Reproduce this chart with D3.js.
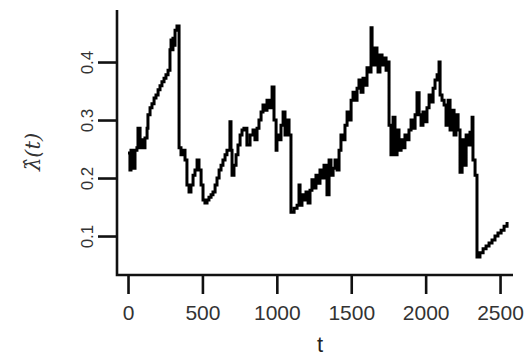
<!DOCTYPE html>
<html>
<head>
<meta charset="utf-8">
<script src="https://cdn.jsdelivr.net/npm/d3@7"></script>
<style>
  body { margin: 0; background: #fff; }
</style>
</head>
<body>
<div id="chart"></div>
<script>
// estimated intensity (step function)
const tValues = [
  0, 13, 20, 34, 47, 60, 67, 81, 87, 101, 114, 128, 134, 148, 161, 175, 188, 202, 215, 228,
  242, 255, 269, 282, 289, 296, 302, 309, 316, 329,
  343, 356, 370, 383, 396, 410, 423, 437, 450, 464, 477, 491, 504, 517, 531, 544, 558, 571,
  585, 598, 612, 625, 638, 652, 665, 685, 692, 699, 712, 726, 739, 753, 766, 779, 799, 820,
  840, 853, 867, 880, 894, 907, 921, 934, 948, 968, 981, 995, 1001, 1015, 1028, 1042, 1055,
  1068, 1082,
  1095, 1116, 1136, 1149, 1156, 1169, 1183, 1196, 1210, 1223, 1236, 1250, 1263, 1277, 1290,
  1304, 1317, 1331, 1337, 1351, 1364, 1378, 1391, 1405, 1418, 1431, 1445, 1458, 1472, 1485,
  1499, 1512, 1525, 1539, 1552, 1566, 1579, 1592, 1606, 1619, 1633, 1640, 1646, 1660, 1673,
  1680, 1693, 1707, 1720, 1734, 1747,
  1754, 1767, 1781, 1794, 1808, 1821, 1835, 1848, 1861, 1875, 1888, 1902, 1915, 1929, 1942,
  1956, 1969, 1982, 1996, 2009, 2023, 2036, 2050, 2063, 2077, 2090, 2097, 2110, 2124, 2137,
  2151, 2164, 2177, 2191, 2204, 2218, 2231, 2245, 2258, 2272, 2285, 2298, 2312, 2318, 2332,
  2345, 2365, 2386, 2406, 2426, 2446, 2466, 2486, 2507, 2527, 2547
];
const lambdaValues = [
  0.243, 0.214, 0.248, 0.217, 0.248, 0.252, 0.286, 0.252, 0.266, 0.252, 0.269, 0.286, 0.309,
  0.321, 0.328, 0.338, 0.343, 0.352, 0.359, 0.366, 0.372, 0.378, 0.386, 0.421, 0.438, 0.421,
  0.441, 0.429, 0.455, 0.462,
  0.252, 0.240, 0.248, 0.231, 0.188, 0.176, 0.188, 0.205, 0.214, 0.231, 0.214, 0.188, 0.162,
  0.157, 0.162, 0.167, 0.171, 0.176, 0.188, 0.200, 0.214, 0.222, 0.231, 0.240, 0.248, 0.297,
  0.248, 0.205, 0.222, 0.240, 0.257, 0.274, 0.283, 0.286, 0.257, 0.274, 0.283, 0.266, 0.286,
  0.300, 0.314, 0.326, 0.317, 0.334, 0.321, 0.357, 0.300, 0.248, 0.274, 0.266, 0.291, 0.314,
  0.274, 0.300, 0.274,
  0.141, 0.148, 0.153, 0.188, 0.153, 0.171, 0.162, 0.176, 0.157, 0.179, 0.197, 0.183, 0.205,
  0.191, 0.214, 0.200, 0.222, 0.205, 0.171, 0.231, 0.205, 0.217, 0.231, 0.214, 0.248, 0.274,
  0.266, 0.291, 0.314, 0.300, 0.334, 0.348, 0.334, 0.355, 0.369, 0.348, 0.372, 0.360, 0.390,
  0.383, 0.459, 0.421, 0.395, 0.424, 0.403, 0.383, 0.412, 0.395, 0.407, 0.386, 0.400,
  0.291, 0.240, 0.305, 0.240, 0.283, 0.248, 0.266, 0.252, 0.274, 0.266, 0.283, 0.300, 0.286,
  0.309, 0.347, 0.309, 0.291, 0.314, 0.297, 0.321, 0.343, 0.331, 0.355, 0.369, 0.378, 0.400,
  0.343, 0.334, 0.326, 0.291, 0.334, 0.283, 0.317, 0.274, 0.309, 0.283, 0.210, 0.266, 0.222,
  0.274, 0.257, 0.279, 0.305, 0.231, 0.205,
  0.064, 0.071, 0.078, 0.083, 0.088, 0.093, 0.100, 0.105, 0.110, 0.117, 0.124
];
const xTicks = [0, 500, 1000, 1500, 2000, 2500];
const yTicks = [0.1, 0.2, 0.3, 0.4];

const width = 528, height = 358;
const plotLeft = 117, plotRight = 513, plotTop = 10, plotBottom = 275;

const svg = d3.select("#chart").append("svg")
    .attr("width", width)
    .attr("height", height);

const x = d3.scaleLinear().domain([-74, 2587]).range([plotLeft, plotRight]);
const y = d3.scaleLinear().domain([0.0328, 0.4897]).range([plotBottom, plotTop]);

const data = tValues.map((t, i) => ({ t: t, v: lambdaValues[i] }));

// line
const stepLine = d3.line()
    .x(d => x(d.t))
    .y(d => y(d.v))
    .curve(d3.curveStepAfter);

svg.append("path")
    .datum(data)
    .attr("fill", "none")
    .attr("stroke", "#000")
    .attr("stroke-width", 3)
    .attr("d", stepLine);

// x axis
const xAxis = svg.append("g")
    .attr("transform", `translate(0,${plotBottom})`)
    .call(d3.axisBottom(x).tickValues(xTicks).tickSize(19).tickSizeOuter(0).tickFormat(d3.format("d")));
xAxis.select(".domain").remove();
xAxis.selectAll(".tick line").attr("stroke", "#111").attr("stroke-width", 2.6);
xAxis.selectAll(".tick text")
    .attr("y", 45)
    .attr("dy", null)
    .attr("fill", "#333")
    .style("font-family", "'Liberation Sans', Arial, sans-serif")
    .style("font-size", "21px");

// y axis
const yAxis = svg.append("g")
    .attr("transform", `translate(${plotLeft},0)`)
    .call(d3.axisLeft(y).tickValues(yTicks).tickSize(19).tickSizeOuter(0).tickFormat(d3.format(".1f")));
yAxis.select(".domain").remove();
yAxis.selectAll(".tick line").attr("stroke", "#111").attr("stroke-width", 2.6);
yAxis.selectAll(".tick text")
    .attr("x", 0)
    .attr("dy", "0.36em")
    .attr("transform", "translate(-30,0) rotate(-90)")
    .attr("text-anchor", "middle")
    .attr("fill", "#333")
    .style("font-family", "'Liberation Sans', Arial, sans-serif")
    .style("font-size", "17px");

// axis lines (L shape)
svg.append("path")
    .attr("d", `M${plotLeft},${plotTop}V${plotBottom}H${plotRight}`)
    .attr("fill", "none")
    .attr("stroke", "#111")
    .attr("stroke-width", 2.6);

// axis titles
svg.append("text")
    .attr("x", 320)
    .attr("y", 352)
    .attr("text-anchor", "middle")
    .attr("fill", "#222")
    .style("font-family", "'Liberation Sans', Arial, sans-serif")
    .style("font-size", "22px")
    .text("t");

svg.append("text")
    .attr("transform", "translate(40,152) rotate(-90)")
    .attr("text-anchor", "middle")
    .attr("fill", "#333")
    .style("font-family", "'DejaVu Serif', serif")
    .style("font-style", "italic")
    .style("font-size", "21px")
    .text("\u03BB\u0302(t)");
</script>
</body>
</html>
